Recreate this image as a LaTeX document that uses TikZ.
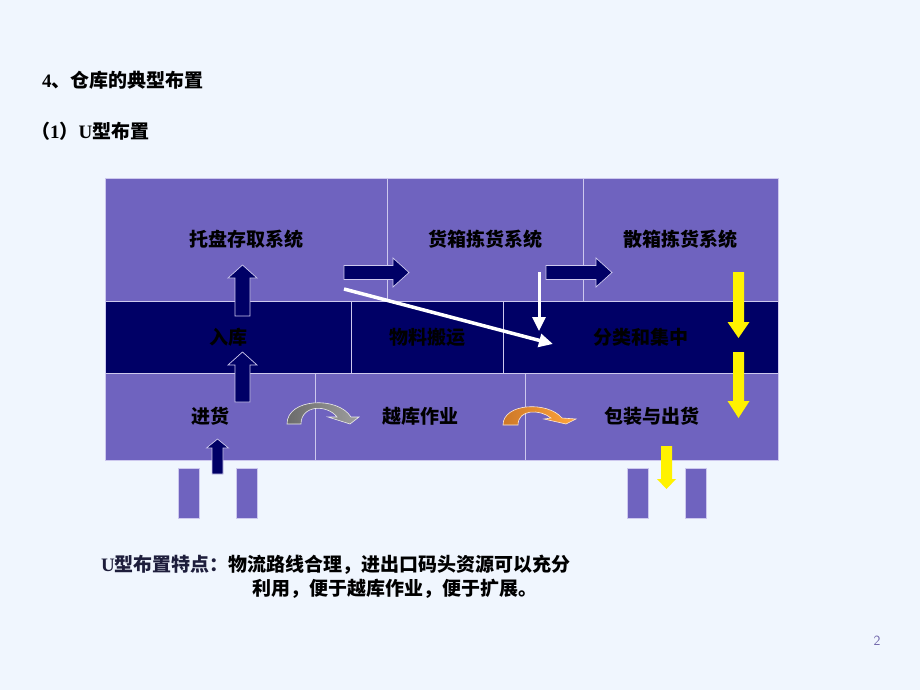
\documentclass[tikz,border=0pt]{standalone}
\usepackage{fontspec}
\setmainfont{Liberation Serif}
\newfontfamily\cjk{Noto Sans CJK SC}
\usetikzlibrary{arrows.meta, positioning}
\definecolor{bgblue}{RGB}{240,246,254}
\definecolor{cellpurple}{RGB}{111,99,191}
\definecolor{deepnavy}{RGB}{0,0,102}
\definecolor{gridline}{RGB}{205,200,238}
\definecolor{pagenum}{RGB}{110,100,170}
\tikzstyle{cell} = [draw=gridline, line width=0.8pt, fill=cellpurple, text=black, inner sep=0pt, font=\cjk\bfseries\fontsize{19}{21}\selectfont]
\tikzstyle{band} = [cell, fill=deepnavy]
\tikzstyle{dock} = [draw=gridline, line width=0.6pt, fill=cellpurple, minimum width=21pt, minimum height=50pt, inner sep=0pt]
\tikzstyle{navyblock} = [fill=deepnavy, draw=gridline, line width=0.7pt]
\tikzstyle{yellowblock} = [fill=yellow, draw=none]
\tikzstyle{flow} = [draw=white, line width=3.5pt, -{Triangle[length=14pt,width=13pt]}]
\tikzstyle{label} = [anchor=west, inner sep=0pt, font=\bfseries\fontsize{19}{21}\selectfont]
% block arrows: style, x, tail, head base, tip, half shaft, half head
\newcommand{\vblock}[7]{\draw[#1] (#2-#6,#3) -- (#2-#6,#4) -- (#2-#7,#4) -- (#2,#5) -- (#2+#7,#4) -- (#2+#6,#4) -- (#2+#6,#3) -- cycle;}
\newcommand{\hblock}[7]{\draw[#1] (#3,#2-#6) -- (#4,#2-#6) -- (#4,#2-#7) -- (#5,#2) -- (#4,#2+#7) -- (#4,#2+#6) -- (#3,#2+#6) -- cycle;}

\begin{document}
\begin{tikzpicture}[x=1pt, y=-1pt]
    \useasboundingbox[fill=bgblue] (0,0) rectangle (920,690);

    \node (title) [label] at (42,80) {4{\cjk 、仓库的典型布置}};
    \node (sub) [label] at (31,131) {{\cjk （}1{\cjk ）}U{\cjk 型布置}};

    % top row
    \node (tuopan) [cell, minimum width=282pt, minimum height=123pt] at (246,239.5) {托盘存取系统};
    \node (huoxiang) [cell, minimum width=196pt, minimum height=123pt] at (485,239.5) {货箱拣货系统};
    \node (sanxiang) [cell, minimum width=195pt, minimum height=123pt] at (680.5,239.5) {散箱拣货系统};
    % middle row
    \node (ruku) [band, minimum width=246pt, minimum height=72pt] at (228,337) {入库};
    \node (banyun) [band, minimum width=152pt, minimum height=72pt] at (427,337) {物料搬运};
    \node (fenlei) [band, minimum width=275pt, minimum height=72pt] at (640.5,337) {分类和集中};
    % bottom row
    \node (jinhuo) [cell, minimum width=210pt, minimum height=87pt] at (210,416.5) {进货};
    \node (yueku) [cell, minimum width=210pt, minimum height=87pt] at (420,416.5) {越库作业};
    \node (baozhuang) [cell, minimum width=253pt, minimum height=87pt] at (651.5,416.5) {包装与出货};

    % docks
    \node (dockA) [dock] at (188.5,493) {};
    \node (dockB) [dock] at (246.5,493) {};
    \node (dockC) [dock] at (637.5,493) {};
    \node (dockD) [dock] at (695.5,493) {};

    \vblock{navyblock}{242.5}{316}{278}{265}{7.5}{14.5}
    \vblock{navyblock}{242.5}{402}{365}{352}{7.5}{14.5}
    \vblock{navyblock}{217.5}{474}{448}{439}{5.5}{11}
    \hblock{navyblock}{272.5}{344}{393}{409}{7}{14.5}
    \hblock{navyblock}{272.5}{546}{596}{612}{7}{14.5}
    \vblock{yellowblock}{738.5}{272}{322}{338}{5.5}{11}
    \vblock{yellowblock}{738.5}{352}{401}{418}{5.5}{11}
    \vblock{yellowblock}{666.5}{446}{479}{489}{5.5}{9.5}

    \coordinate (diagS) at (344,289);
    \coordinate (diagE) at (553,344);
    \coordinate (dropS) at (539,272);
    \coordinate (dropE) at (539,331);
    \draw[flow] (diagS) -- (diagE);
    \draw[flow, line width=3pt] (dropS) -- (dropE);

    % curved arrows
    \path[left color=black!58, right color=black!38, draw=white!85!gray, line width=0.6pt]
        (287,424) .. controls (287,398) and (338,396) .. (351,417) -- (359,417) -- (350,424)
        -- (328,417) -- (337,417) .. controls (327,404) and (301,405) .. (301,424) -- cycle;
    \path[left color={rgb,255:red,205;green,120;blue,40}, right color={rgb,255:red,255;green,165;blue,60}, draw=white!85!orange, line width=0.6pt]
        (503,425) .. controls (503,403) and (548,401) .. (562,418) -- (576,419) -- (566,424)
        -- (544,419) -- (551,418) .. controls (540,409) and (518,409) .. (518,425) -- cycle;

    \node (feature) [label, text={rgb,255:red,30;green,30;blue,60}] at (101,565) {U{\cjk 型布置特点：}\textcolor{black}{\cjk 物流路线合理，进出口码头资源可以充分}};
    \node (feature2) [label] at (252,589) {\cjk 利用，便于越库作业，便于扩展。};

    \node (page) [text=pagenum, font=\sffamily\fontsize{14}{14}\selectfont, inner sep=0pt] at (877,641) {2};
\end{tikzpicture}
\end{document}
